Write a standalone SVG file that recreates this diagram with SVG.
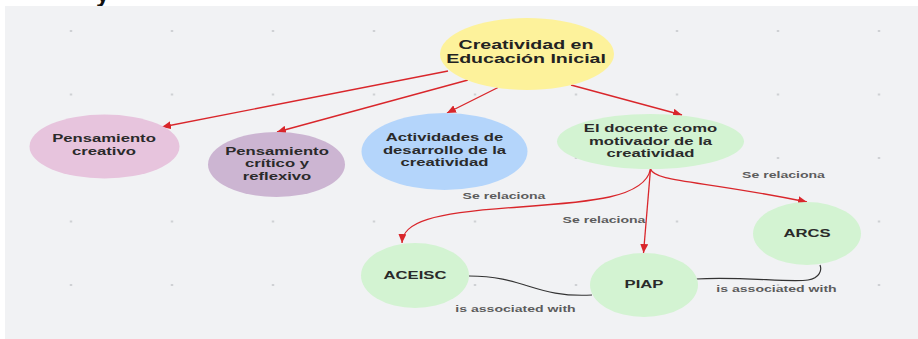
<svg xmlns="http://www.w3.org/2000/svg" width="918" height="339" viewBox="0 0 918 339">
<style>
text{font-family:"Liberation Sans",Arial,sans-serif;font-weight:bold;text-anchor:middle}
.title{font-size:13.5px;fill:#222}
.nt{font-size:11.5px;fill:#2a2a2a}
.lbl{font-size:9.7px;fill:#5c5c5c}
.red{fill:none;stroke:#d9262b;stroke-width:1.3}
.blk{fill:none;stroke:#333;stroke-width:1.2}
</style>
<defs>
<pattern id="dots" patternUnits="userSpaceOnUse" x="20.5" y="-0.75" width="101" height="63.5">
<circle cx="50.5" cy="31.75" r="1" fill="#b9bbbe"/>
</pattern>
<marker id="ah" markerUnits="userSpaceOnUse" markerWidth="9" markerHeight="8" refX="9" refY="4" orient="auto" viewBox="0 0 9 8">
<path d="M0,0 L9,4 L0,8 z" fill="#d9262b"/>
</marker>
</defs>
<rect x="0" y="0" width="918" height="339" fill="#ffffff"/>
<text x="96" y="2" style="font-size:24px;fill:#111;text-anchor:start">y</text>
<rect x="5" y="6" width="913" height="333" fill="#f1f2f4"/>
<rect x="5" y="6" width="913" height="333" fill="url(#dots)"/>
<g id="connectors">
<line class="red" x1="448" y1="71" x2="162" y2="127" marker-end="url(#ah)"/>
<line class="red" x1="468" y1="80" x2="277" y2="132" marker-end="url(#ah)"/>
<line class="red" x1="499" y1="87" x2="447" y2="113" marker-end="url(#ah)"/>
<line class="red" x1="571" y1="85" x2="682" y2="115" marker-end="url(#ah)"/>
<path class="red" d="M650.5,169 C645,198 590,202 520,207 C430,213 403,222 402,243" marker-end="url(#ah)"/>
<line class="red" x1="650.5" y1="169" x2="643.5" y2="253" marker-end="url(#ah)"/>
<path class="red" d="M650.5,169 C655,182 700,180 807,202" marker-end="url(#ah)"/>
<path class="blk" d="M469,276 C525,276 535,298 592,295"/>
<path class="blk" d="M696,279 C740,276 790,283 808,280 C820,278 822,270 820,265"/>
<text class="lbl" transform="matrix(1.45 0 0 1 504 0)" x="0" y="199">Se relaciona</text>
<text class="lbl" transform="matrix(1.45 0 0 1 604 0)" x="0" y="223">Se relaciona</text>
<text class="lbl" transform="matrix(1.45 0 0 1 783.5 0)" x="0" y="178">Se relaciona</text>
<text class="lbl" transform="matrix(1.45 0 0 1 515.5 0)" x="0" y="312">is associated with</text>
<text class="lbl" transform="matrix(1.45 0 0 1 776.5 0)" x="0" y="292.5">is associated with</text>
</g>
<g id="n-title">
<ellipse cx="527" cy="54" rx="87" ry="36" fill="#fdf29b"/>
<text class="title" transform="matrix(1.45 0 0 1 526 0)"><tspan x="0" y="49">Creatividad en</tspan><tspan x="0" y="63">Educación Inicial</tspan></text>
</g>
<g id="n-creativo">
<ellipse cx="104.5" cy="146.5" rx="75" ry="32" fill="#e7c4dd"/>
<text class="nt" transform="matrix(1.45 0 0 1 104 0)"><tspan x="0" y="142.5">Pensamiento</tspan><tspan x="0" y="155.5">creativo</tspan></text>
</g>
<g id="n-critico">
<ellipse cx="276.5" cy="164.5" rx="68.5" ry="32.5" fill="#ccb5d2"/>
<text class="nt" transform="matrix(1.45 0 0 1 277 0)"><tspan x="0" y="155">Pensamiento</tspan><tspan x="0" y="167.5">crítico y</tspan><tspan x="0" y="180">reflexivo</tspan></text>
</g>
<g id="n-actividades">
<ellipse cx="444.5" cy="151.5" rx="83" ry="38.5" fill="#b4d5fb"/>
<text class="nt" transform="matrix(1.45 0 0 1 444.5 0)"><tspan x="0" y="141.5">Actividades de</tspan><tspan x="0" y="154">desarrollo de la</tspan><tspan x="0" y="166.5">creatividad</tspan></text>
</g>
<g id="n-docente">
<ellipse cx="650.5" cy="141.5" rx="93.5" ry="27.5" fill="#d3f3d2"/>
<text class="nt" transform="matrix(1.45 0 0 1 650.5 0)"><tspan x="0" y="132.5">El docente como</tspan><tspan x="0" y="145">motivador de la</tspan><tspan x="0" y="157.5">creatividad</tspan></text>
</g>
<g id="n-aceisc">
<ellipse cx="415" cy="275.5" rx="54" ry="32.5" fill="#d3f3d2"/>
<text class="nt" transform="matrix(1.45 0 0 1 415 0)" x="0" y="279">ACEISC</text>
</g>
<g id="n-piap">
<ellipse cx="644" cy="285" rx="54" ry="32" fill="#d3f3d2"/>
<text class="nt" transform="matrix(1.45 0 0 1 644 0)" x="0" y="288.5">PIAP</text>
</g>
<g id="n-arcs">
<ellipse cx="807" cy="233.5" rx="54" ry="31.5" fill="#d3f3d2"/>
<text class="nt" transform="matrix(1.45 0 0 1 807 0)" x="0" y="237">ARCS</text>
</g>
</svg>
